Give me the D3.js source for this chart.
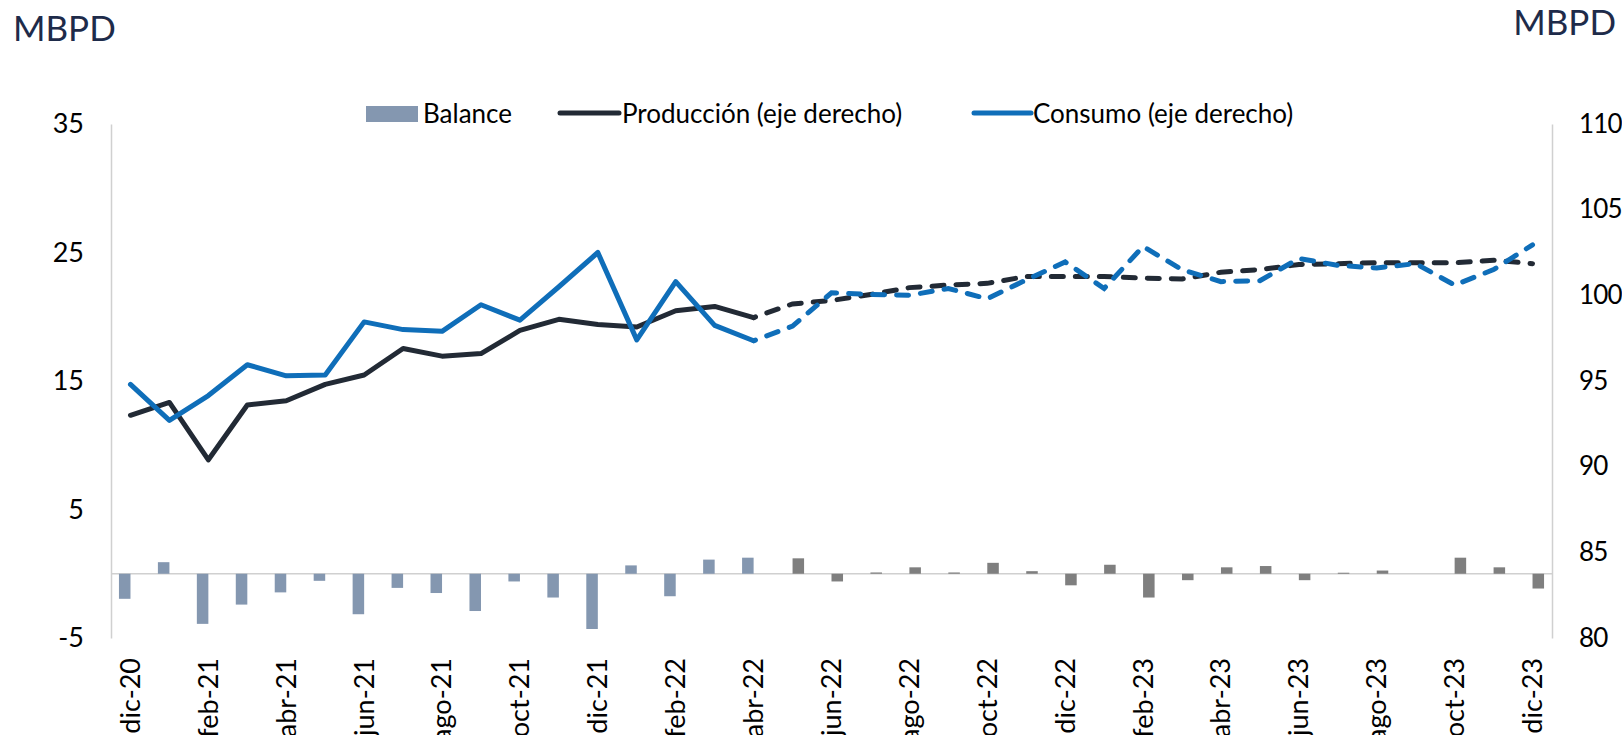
<!DOCTYPE html>
<html>
<head>
<meta charset="utf-8">
<script src="https://cdn.jsdelivr.net/npm/d3@7"></script>
<style>
  html, body { margin: 0; padding: 0; background: #fff; }
  svg { display: block; font-family: Lato, 'Open Sans', sans-serif; }
  .axis path { stroke: #d0d0d0; stroke-width: 1.5; }
  .axis text { fill: #000; font-size: 27px; font-family: Lato, 'Open Sans', sans-serif; }
  .axis.right text { font-size: 26px; letter-spacing: -0.8px; }
</style>
</head>
<body>
<svg id="svg" width="1622" height="735"></svg>
<script>
// data (MBPD)
const months = [
  'dic-20','ene-21','feb-21','mar-21','abr-21','may-21','jun-21','jul-21','ago-21','sep-21','oct-21','nov-21',
  'dic-21','ene-22','feb-22','mar-22','abr-22','may-22','jun-22','jul-22','ago-22','sep-22','oct-22','nov-22',
  'dic-22','ene-23','feb-23','mar-23','abr-23','may-23','jun-23','jul-23','ago-23','sep-23','oct-23','nov-23','dic-23'
];
const produccion = [
  93.0, 93.75, 90.4, 93.6, 93.85, 94.8, 95.35, 96.9, 96.45, 96.6, 97.95, 98.6,
  98.3, 98.15, 99.1, 99.35, 98.7, 99.5, 99.7, 100.05, 100.45, 100.6, 100.7, 101.1,
  101.1, 101.1, 101.0, 100.95, 101.35, 101.5, 101.8, 101.85, 101.9, 101.9, 101.9, 102.05, 101.85
];
const consumo = [
  94.8, 92.7, 94.15, 95.95, 95.3, 95.35, 98.45, 98.0, 97.9, 99.45, 98.55, 100.5,
  102.5, 97.4, 100.8, 98.25, 97.35, 98.2, 100.15, 100.05, 100.0, 100.4, 99.8, 100.9,
  101.95, 100.4, 102.85, 101.5, 100.8, 100.85, 102.15, 101.75, 101.6, 101.85, 100.6, 101.5, 102.95
];
const balance = [
  -1.95, 0.9, -3.9, -2.4, -1.45, -0.55, -3.15, -1.1, -1.5, -2.9, -0.6, -1.85,
  -4.3, 0.65, -1.75, 1.1, 1.25, 1.2, -0.6, 0.1, 0.5, 0.1, 0.85, 0.2,
  -0.9, 0.7, -1.85, -0.5, 0.5, 0.6, -0.5, 0.08, 0.25, 0, 1.25, 0.5, -1.15
];
const lastHist = 'abr-22';           // after this: projection (dashed / gray)
const leftTicks = [-5, 5, 15, 25, 35];
const rightTicks = [80, 85, 90, 95, 100, 105, 110];

// layout
const plot = {left: 111, right: 1552, top: 124, bottom: 638};
const colors = {bal: '#8497b0', balProj: '#7f7f7f', prod: '#222a35', cons: '#0f6eb9', title: '#1e2b4a'};

const svg = d3.select('#svg');
const histIdx = months.indexOf(lastHist);

const x = d3.scaleBand().domain(months).range([plot.left, plot.right]);
const x1 = d3.scaleBand().domain(['hist', 'proj']).range([0, x.bandwidth()]).paddingOuter(0.69);
const yL = d3.scaleLinear().domain([-5, 35]).range([plot.bottom, plot.top]);
const yR = d3.scaleLinear().domain([80, 110]).range([plot.bottom, plot.top]);
const cx = m => x(m) + x.bandwidth() / 2;

// unit labels
svg.append('text').attr('x', 13).attr('y', 41).attr('fill', colors.title)
  .style('font-size', '35px').text('MBPD');
svg.append('text').attr('x', 1616).attr('y', 35).attr('fill', colors.title)
  .attr('text-anchor', 'end').style('font-size', '35px').text('MBPD');

// axes (plain hyphen for negatives, like the source)
svg.append('g').attr('class', 'axis')
  .attr('transform', `translate(${plot.left},0)`)
  .call(d3.axisLeft(yL).tickValues(leftTicks).tickFormat(d => String(d)).tickSize(0).tickPadding(27));
svg.append('g').attr('class', 'axis right')
  .attr('transform', `translate(${plot.right},0)`)
  .call(d3.axisRight(yR).tickValues(rightTicks).tickFormat(d => String(d)).tickSize(0).tickPadding(27));

const xAxis = svg.append('g').attr('class', 'axis')
  .attr('transform', `translate(0,${plot.bottom})`)
  .call(d3.axisBottom(x).tickValues(months.filter((d, i) => i % 2 === 0)).tickSize(0));
xAxis.select('.domain').remove();
xAxis.selectAll('text')
  .attr('transform', 'rotate(-90)')
  .attr('x', -20).attr('y', 0).attr('dy', '0.35em')
  .style('text-anchor', 'end');

// zero line
svg.append('line')
  .attr('x1', plot.left).attr('x2', plot.right)
  .attr('y1', yL(0)).attr('y2', yL(0))
  .attr('stroke', '#d0d0d0').attr('stroke-width', 1.5);

// balance bars
svg.append('g').selectAll('rect')
  .data(months.map((m, i) => ({m, v: balance[i], s: i <= histIdx ? 'hist' : 'proj'})))
  .join('rect')
    .attr('x', d => x(d.m) + x1(d.s))
    .attr('width', x1.bandwidth())
    .attr('y', d => yL(Math.max(0, d.v)))
    .attr('height', d => Math.abs(yL(d.v) - yL(0)))
    .attr('fill', d => d.s === 'hist' ? colors.bal : colors.balProj);

// lines: solid history, dashed projection
const line = d3.line().x(d => cx(d.m)).y(d => yR(d.v));
function drawSeries(vals, color) {
  const pts = months.map((m, i) => ({m, v: vals[i]}));
  svg.append('path').datum(pts.slice(0, histIdx + 1))
    .attr('d', line).attr('fill', 'none').attr('stroke', color)
    .attr('stroke-width', 5).attr('stroke-linejoin', 'round').attr('stroke-linecap', 'round');
  svg.append('path').datum(pts.slice(histIdx))
    .attr('d', line).attr('fill', 'none').attr('stroke', color)
    .attr('stroke-width', 5).attr('stroke-linecap', 'round')
    .attr('stroke-dasharray', '12,12').attr('stroke-dashoffset', -14);
}
drawSeries(produccion, colors.prod);
drawSeries(consumo, colors.cons);

// legend
const lg = svg.append('g').style('font-size', '26px');
lg.append('rect').attr('x', 366).attr('y', 106).attr('width', 52).attr('height', 16).attr('fill', colors.bal);
lg.append('text').attr('x', 423).attr('y', 123).text('Balance');
lg.append('line').attr('x1', 560).attr('x2', 619).attr('y1', 113).attr('y2', 113)
  .attr('stroke', colors.prod).attr('stroke-width', 5).attr('stroke-linecap', 'round');
lg.append('text').attr('x', 622).attr('y', 123).text('Producción (eje derecho)');
lg.append('line').attr('x1', 974).attr('x2', 1031).attr('y1', 113).attr('y2', 113)
  .attr('stroke', colors.cons).attr('stroke-width', 5).attr('stroke-linecap', 'round');
lg.append('text').attr('x', 1033).attr('y', 123).text('Consumo (eje derecho)');
</script>
</body>
</html>
